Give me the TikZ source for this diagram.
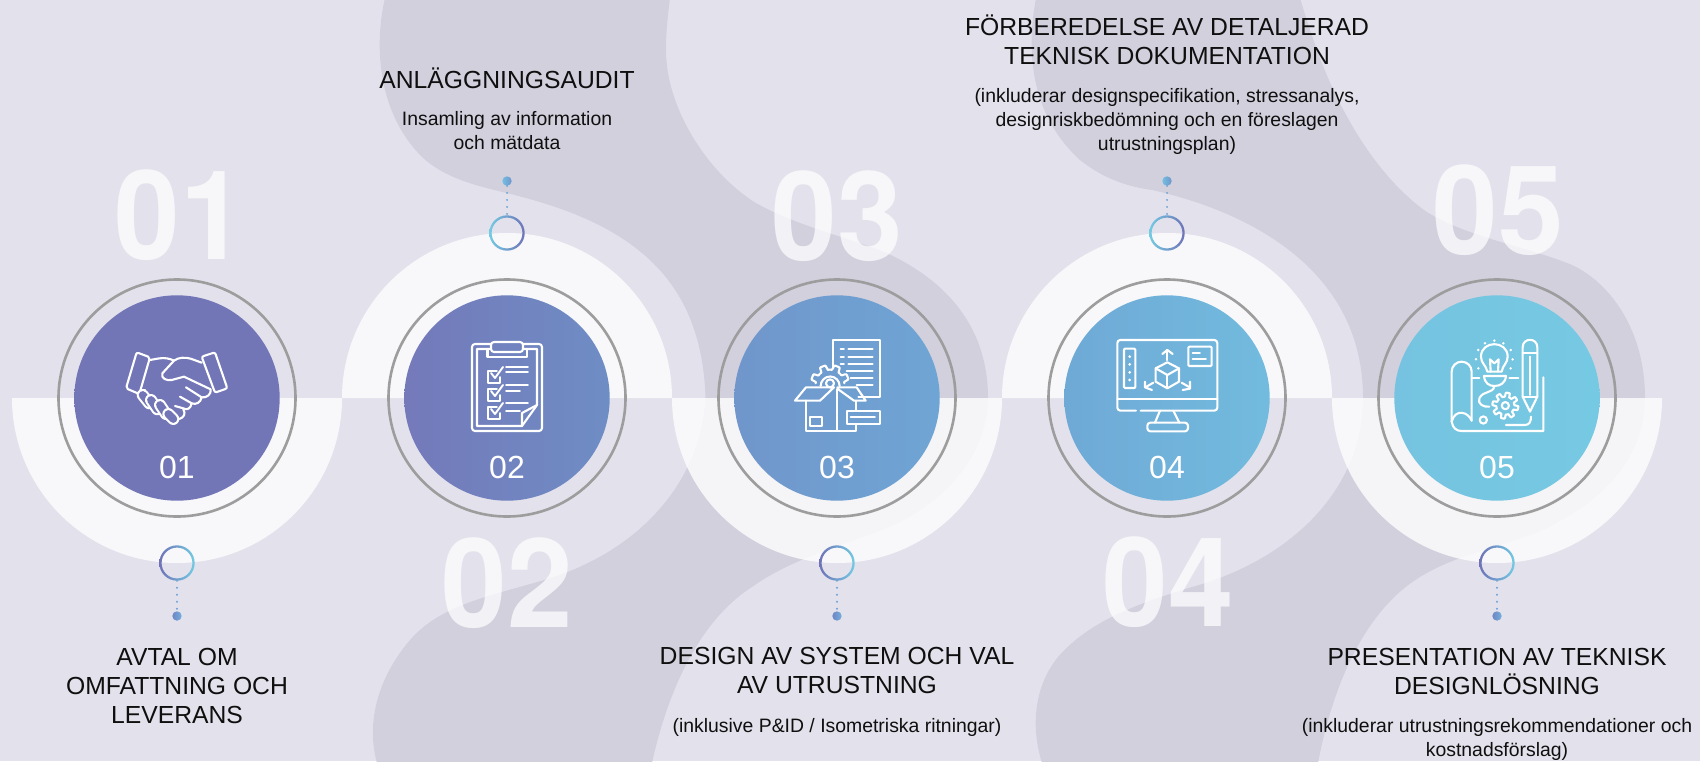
\documentclass[tikz,border=0pt]{standalone}
\usepackage{fontspec}
\setmainfont{Liberation Sans}
\newfontfamily\bigfont{TeX Gyre Heros}
\definecolor{bgc}{HTML}{E3E2EC}
\definecolor{blobc}{HTML}{D2D0DD}
\definecolor{ringgray}{HTML}{9D9D9D}
\definecolor{inka}{HTML}{0F0F0F}
\definecolor{purp}{HTML}{6F73B8}
\definecolor{cyanc}{HTML}{74CBE3}
\definecolor{linkc}{HTML}{6FA3D6}
\definecolor{icona}{HTML}{7276B6}
\definecolor{dbl}{HTML}{7479BA}\definecolor{dbr}{HTML}{6F8DC5}
\definecolor{dcl}{HTML}{7096CB}\definecolor{dcr}{HTML}{6FA5D4}
\definecolor{ddl}{HTML}{6FA9D6}\definecolor{ddr}{HTML}{72BBDE}
\definecolor{del}{HTML}{75C3E0}\definecolor{der}{HTML}{76C9E3}
\definecolor{lowl}{HTML}{6F85C4}\definecolor{lowr}{HTML}{74B0DC}
\definecolor{upl}{HTML}{74BFE0}\definecolor{upr}{HTML}{6F95CC}
\tikzset{
  halfdisc/.style={fill=white,fill opacity=.78},
  bignum/.style={text=white,text opacity=.72,anchor=base,font=\bigfont\bfseries\fontsize{124}{124}\selectfont,xscale=.95,transform shape,inner sep=0pt},
  disc/.style={circle,minimum size=205.4pt,inner sep=0pt},
  grayring/.style={circle,minimum size=237pt,inner sep=0pt,draw=ringgray,line width=2.6pt},
  numtext/.style={text=white,anchor=base,inner sep=0pt,font=\fontsize{32}{32}\selectfont},
  titletext/.style={text=inka,anchor=base,inner sep=0pt,align=center,font=\fontsize{24.7}{29}\selectfont},
  subtext/.style={text=inka,anchor=base,inner sep=0pt,align=center,font=\fontsize{19.4}{24}\selectfont},
  smallring/.style={circle,minimum size=35pt,inner sep=0pt},
  enddot/.style={circle,minimum size=9.4pt,inner sep=0pt},
  dotlink/.style={draw=linkc,line width=2.2pt,line cap=round,dash pattern=on 0pt off 7pt},
  ico/.style={draw=white,line width=2.1pt,line cap=round,line join=round},
  icofine/.style={ico,line width=1.9pt},
}
\newcommand{\ringshade}[3]{\shade[even odd rule,left color=#2,right color=#3] (#1.center) circle (17.7pt) circle (15.4pt);}
\begin{document}
\begin{tikzpicture}[x=1pt,y=-1pt]
\useasboundingbox (0,0) rectangle (1700,761);
\fill[bgc] (0,0) rectangle (1700,761);
% background bands
\fill[blobc] (385,-2) .. controls (375,40) and (375,110) .. (422,157)
  .. controls (450,183) and (490,188) .. (522,197)
  .. controls (640,228) and (702,285) .. (705.5,398)
  .. controls (700,490) and (630,555) .. (544,580)
  .. controls (490,596) and (440,605) .. (410,640)
  .. controls (380,675) and (365,720) .. (377,763)
  -- (652,763)
  .. controls (668,690) and (700,620) .. (752,587)
  .. controls (790,560) and (830,550) .. (882,530)
  .. controls (950,503) and (988,450) .. (988,398)
  .. controls (988,330) and (950,285) .. (895,257)
  .. controls (860,240) and (800,228) .. (756,203)
  .. controls (710,175) and (666,110) .. (666,50)
  .. controls (666,30) and (668,15) .. (670,-2) -- cycle;
\fill[blobc] (1036,-2) .. controls (1028,40) and (1025,110) .. (1080,160)
  .. controls (1105,180) and (1130,187) .. (1152,190)
  .. controls (1250,212) and (1363,270) .. (1363,398)
  .. controls (1363,490) and (1290,560) .. (1192,587)
  .. controls (1140,603) and (1090,620) .. (1058,657)
  .. controls (1035,685) and (1030,725) .. (1042,763)
  -- (1318,763)
  .. controls (1330,700) and (1355,630) .. (1402,590)
  .. controls (1440,558) and (1490,550) .. (1536,533)
  .. controls (1600,505) and (1645,460) .. (1645,398)
  .. controls (1645,320) and (1600,275) .. (1567,263)
  .. controls (1530,248) and (1460,235) .. (1424,210)
  .. controls (1370,170) and (1335,100) .. (1317,50)
  .. controls (1310,30) and (1305,15) .. (1300,-2) -- cycle;
% half discs
\fill[halfdisc] (12,398) arc[start angle=180,end angle=360,radius=165pt] -- cycle;
\fill[halfdisc] (342,398) arc[start angle=180,end angle=0,radius=165pt] -- cycle;
\fill[halfdisc] (672,398) arc[start angle=180,end angle=360,radius=165pt] -- cycle;
\fill[halfdisc] (1002,398) arc[start angle=180,end angle=0,radius=165pt] -- cycle;
\fill[halfdisc] (1332,398) arc[start angle=180,end angle=360,radius=165pt] -- cycle;
% big numbers
\node[bignum] (big1) at (180,259) {01};
\node[bignum] (big2) at (507,627) {02};
\node[bignum] (big3) at (837,260) {03};
\node[bignum] (big4) at (1168,626) {04};
\node[bignum] (big5) at (1498,254) {05};
% rings and discs
\foreach \n/\cx in {1/177,2/507,3/837,4/1167,5/1497} \node[grayring] (gr\n) at (\cx,398) {};
\node[disc,left color=icona,right color=icona] (d1) at (177,398) {};
\node[disc,left color=dbl,right color=dbr] (d2) at (507,398) {};
\node[disc,left color=dcl,right color=dcr] (d3) at (837,398) {};
\node[disc,left color=ddl,right color=ddr] (d4) at (1167,398) {};
\node[disc,left color=del,right color=der] (d5) at (1497,398) {};
\foreach \n/\cx/\t in {1/177/01,2/507/02,3/837/03,4/1167/04,5/1497/05} \node[numtext] (n\n) at (\cx,478) {\t};
% small rings, dots, links
\foreach \n/\cx/\ry/\dy in {1/177/563/616,2/507/233/181,3/837/563/616,4/1167/233/181,5/1497/563/616}{
  \node[smallring] (sr\n) at (\cx,\ry) {};
  \node[enddot] (ed\n) at (\cx,\dy) {};
}
\ringshade{sr1}{purp}{cyanc}
\ringshade{sr3}{purp}{cyanc}
\ringshade{sr5}{purp}{cyanc}
\ringshade{sr2}{cyanc}{purp}
\ringshade{sr4}{cyanc}{purp}
\foreach \n in {1,3,5}{
  \shade[left color=lowl,right color=lowr] (ed\n.center) circle (4.7pt);
  \draw[dotlink] (sr\n) -- (ed\n);
}
\foreach \n in {2,4}{
  \shade[left color=upl,right color=upr] (ed\n.center) circle (4.7pt);
  \draw[dotlink] (ed\n) -- (sr\n);
}
% titles
\node[titletext] (t2) at (507,88) {ANLÄGGNINGSAUDIT};
\node[subtext] (s2) at (507,149) {Insamling av information\\och mätdata};
\node[titletext] (t4) at (1167,64) {FÖRBEREDELSE AV DETALJERAD\\TEKNISK DOKUMENTATION};
\node[subtext] (s4) at (1167,150) {(inkluderar designspecifikation, stressanalys,\\designriskbedömning och en föreslagen\\utrustningsplan)};
\node[titletext] (t1) at (177,723) {AVTAL OM\\OMFATTNING OCH\\LEVERANS};
\node[titletext] (t3) at (837,693) {DESIGN AV SYSTEM OCH VAL\\AV UTRUSTNING};
\node[subtext] (s3) at (837,732) {(inklusive P\&ID / Isometriska ritningar)};
\node[titletext] (t5) at (1497,694) {PRESENTATION AV TEKNISK\\DESIGNLÖSNING};
\node[subtext] (s5) at (1497,756) {(inkluderar utrustningsrekommendationer och\\kostnadsförslag)};
% icon 1: handshake
\begin{scope}[shift={(100,320)},x=.3333pt,y=-.3333pt]
  \draw[ico,rounded corners=2pt] (110,97)--(150,112)--(118,222)--(78,205)--cycle;
  \draw[ico,rounded corners=2pt] (305,110)--(345,97)--(382,205)--(345,218)--cycle;
  \draw[ico] (150,120) .. controls (170,117) and (195,108) .. (222,122);
  \draw[ico] (305,128) -- (272,116) .. controls (255,111) and (235,112) .. (222,122) -- (187,160) .. controls (182,175) and (200,183) .. (215,180) -- (252,170) -- (332,208) .. controls (335,222) and (320,235) .. (305,232) -- (258,202);
  \draw[ico] (305,232) .. controls (302,248) and (288,255) .. (275,250) -- (240,230);
  \draw[ico] (275,250) .. controls (272,265) and (262,272) .. (250,265) -- (225,258);
  \draw[ico] (250,268) .. controls (258,282) and (252,292) .. (238,297);
  \draw[ico] (122,215) -- (135,210);
  \foreach \a/\b/\c/\d in {128/225/148/250,153/240/172/268,180/255/198/282,205/282/220/297}{
    \draw[white,line width=12pt,line cap=round] (\a,\b) -- (\c,\d);
    \draw[icona,line width=7.8pt,line cap=round] (\a,\b) -- (\c,\d);
  }
\end{scope}
% icon 2: clipboard
\begin{scope}
  \draw[ico,rounded corners=3pt] (491,342) rectangle (523,352);
  \draw[ico,rounded corners=3pt] (491,344) -- (472,344) -- (472,431) -- (542,431) -- (542,344) -- (523,344);
  \draw[ico] (487.5,350) -- (487.5,357) -- (527,357) -- (527,350);
  \draw[ico] (491,349) -- (477,349) -- (477,426) -- (522,426) -- (537,405) -- (537,349) -- (523,349);
  \draw[ico] (522,426) -- (522,413) -- (537,405);
  \foreach \y in {370,388,406}{
    \draw[icofine] (497,\y+1) -- (488,\y+1) -- (488,\y+13) -- (500,\y+13) -- (500,\y+7);
    \draw[icofine] (491,\y+3) -- (495,\y+8) -- (503,\y-3);
  }
  \draw[icofine] (506,367) -- (528,367); \draw[icofine] (506,372) -- (528,372);
  \draw[icofine] (506,385) -- (528,385); \draw[icofine] (506,391) -- (520,391);
  \draw[icofine] (506,403) -- (528,403); \draw[icofine] (506,411) -- (520,411);
\end{scope}
% icon 3: box, gear, document
\begin{scope}[shift={(700,300)},x=.3333pt,y=-.3333pt]
  \draw[ico] (398,200) -- (398,120) -- (540,120) -- (540,292) -- (475,292);
  \foreach \y in {148,170}{\draw[icofine] (422,\y) -- (432,\y); \draw[icofine] (445,\y) -- (518,\y);}
  \draw[icofine] (422,191) -- (432,191); \draw[icofine] (445,191) -- (518,191);
  \draw[icofine] (440,213) -- (518,213);
  \draw[icofine] (452,235) -- (518,235);
  \draw[icofine] (470,256) -- (518,256);
  \draw[ico,shift={(390,252)}] plot[domain=183:357,samples=70] (\x:{50+7*max(-1,min(1,3*sin(8*(\x-11))))}) ;
  \draw[ico] (362,258) arc[start angle=180,end angle=0,radius=9.5pt];
  \draw[ico] (390,250) circle (4pt);
  \draw[ico] (285,302) -- (318,262) -- (402,262) -- (360,302) -- cycle;
  \draw[ico] (412,262) -- (470,262) -- (497,302) -- (462,302) -- (412,266);
  \draw[ico] (318,302) -- (318,393) -- (467,393) -- (467,375);
  \draw[ico] (467,302) -- (467,332);
  \draw[ico] (412,268) -- (412,393);
  \draw[icofine] (330,352) rectangle (366,378);
  \draw[ico] (440,332) rectangle (540,372);
  \draw[icofine] (452,352) -- (525,352);
\end{scope}
% icon 4: monitor
\begin{scope}[shift={(1060,300)},x=.3333pt,y=-.3333pt]
  \draw[ico,rounded corners=3pt] (228,332) -- (172,332) -- (172,120) -- (472,120) -- (472,332) -- (242,332);
  \draw[ico] (172,298) -- (472,298);
  \draw[ico] (300,332) -- (285,368);
  \draw[ico] (340,332) -- (358,368);
  \draw[ico,rounded corners=3pt] (262,368) rectangle (384,394);
  \draw[ico,rounded corners=1pt] (192,146) rectangle (226,264);
  \foreach \y in {170,193,217,240}{\fill[white] (209,\y) circle (1.5pt);}
  \draw[ico] (322,187) -- (357,205) -- (357,245) -- (322,265) -- (287,245) -- (287,205) -- cycle;
  \draw[ico] (287,205) -- (322,225) -- (357,205);
  \draw[ico] (322,225) -- (322,265);
  \draw[ico] (322,180) -- (322,150); \draw[ico] (307,162) -- (322,150) -- (338,162);
  \draw[ico] (280,248) -- (256,262); \draw[ico] (255,245) -- (255,262) -- (276,270);
  \draw[ico] (365,248) -- (389,262); \draw[ico] (390,245) -- (390,266) -- (368,270);
  \draw[ico,rounded corners=1pt] (385,140) rectangle (455,198);
  \draw[icofine] (398,158) -- (420,158);
  \draw[icofine] (398,176) -- (438,176);
\end{scope}
% icon 5: blueprint, bulb, gear, pencil
\begin{scope}[shift={(1400,300)},x=.3333pt,y=-.3333pt]
  \draw[ico] (215,362) -- (215,215) arc[start angle=0,end angle=180,radius=10pt] -- (155,365);
  \draw[ico] (215,362) .. controls (205,335) and (165,325) .. (155,365) .. controls (158,385) and (170,393) .. (185,393) -- (430,393) -- (430,232);
  \draw[ico] (215,233) -- (238,233);
  \draw[ico] (328,233) -- (355,233);
  \draw[ico] (262,215) .. controls (258,195) and (243,190) .. (243,170) .. controls (243,120) and (323,120) .. (323,170) .. controls (323,190) and (308,195) .. (305,215) -- cycle;
  \draw[ico] (272,215) -- (270,178) -- (283,190) -- (296,178) -- (294,215);
  \draw[ico] (252,228) -- (318,228) .. controls (316,250) and (300,258) .. (283,258) .. controls (268,258) and (254,250) .. (252,228) -- cycle;
  \draw[ico] (283,258) .. controls (280,282) and (250,270) .. (238,295) .. controls (232,312) and (250,322) .. (268,320);
  \draw[ico,shift={(316,317)}] plot[domain=0:360,samples=140] (\x:{33+6*max(-1,min(1,3*sin(8*\x)))}) -- cycle;
  \draw[ico] (316,317) circle (3.6pt);
  \draw[ico] (250,360) circle (3.6pt);
  \draw[ico] (318,375) -- (375,375) .. controls (388,375) and (393,365) .. (393,350);
  \draw[ico] (368,290) -- (368,142) .. controls (368,112) and (412,112) .. (412,142) -- (412,290) -- (390,335) -- cycle;
  \draw[ico] (368,158) -- (412,158);
  \draw[icofine] (390,170) -- (390,285);
  \draw[ico] (368,292) -- (412,292);
  \foreach \p/\q in {255/130,283/122,310/130,235/150,332/150,228/178,338/178,235/205,332/205}{\fill[white] (\p,\q) circle (1.4pt);}
\end{scope}
\end{tikzpicture}
\end{document}
